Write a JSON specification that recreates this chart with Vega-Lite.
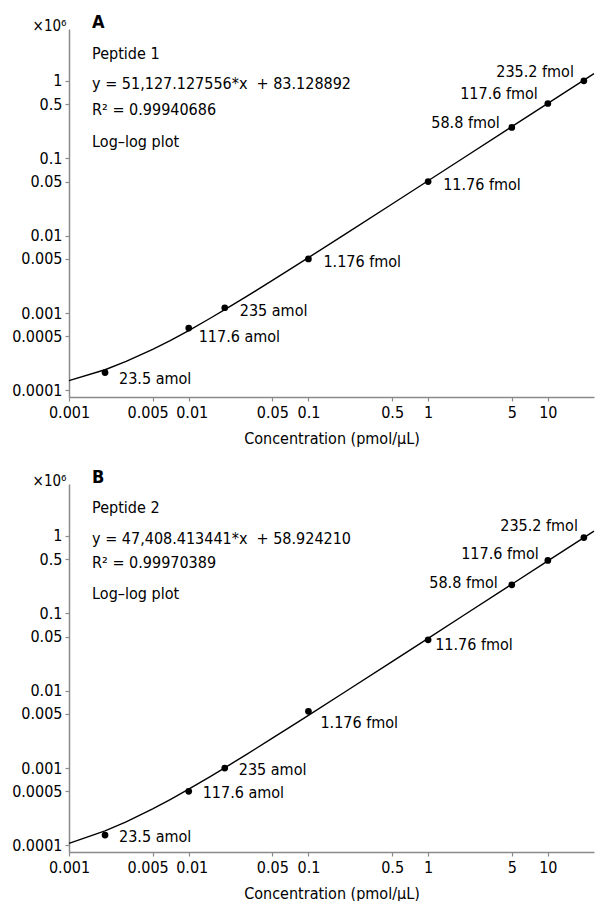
{
  "$schema": "https://vega.github.io/schema/vega-lite/v6.json",
  "padding": {"left": 11, "top": 14, "right": 0, "bottom": 0},
  "background": "white",
  "config": {
    "font": "DejaVu Sans Condensed, Liberation Sans Narrow, sans-serif",
    "view": {"stroke": null},
    "concat": {"spacing": 23},
    "axis": {
      "grid": false,
      "domainColor": "#8a8a8a",
      "domainWidth": 1.5,
      "tickColor": "#8a8a8a",
      "tickWidth": 1.2,
      "tickSize": 4,
      "labelColor": "black",
      "labelFontSize": 16,
      "labelPadding": 3,
      "labelFlush": false,
      "labelOverlap": false,
      "titleColor": "black",
      "titleFontSize": 16,
      "titleFontWeight": "normal"
    },
    "text": {"fontSize": 16, "color": "black"}
  },
  "datasets": {
    "curveA": [{"x":0.001,"y":0.000134},{"x":0.002,"y":0.000185},{"x":0.003,"y":0.000237},{"x":0.005,"y":0.000339},{"x":0.007,"y":0.000441},{"x":0.01,"y":0.000594},{"x":0.015,"y":0.00085},{"x":0.02,"y":0.001106},{"x":0.03,"y":0.001617},{"x":0.05,"y":0.002639},{"x":0.07,"y":0.003662},{"x":0.1,"y":0.005196},{"x":0.2,"y":0.010309},{"x":0.5,"y":0.025647},{"x":1,"y":0.05121},{"x":2,"y":0.10234},{"x":5,"y":0.25572},{"x":10,"y":0.51135},{"x":20,"y":1.02263},{"x":24.3,"y":1.24247}],
    "curveB": [{"x":0.001,"y":0.000106},{"x":0.002,"y":0.000154},{"x":0.003,"y":0.000201},{"x":0.005,"y":0.000296},{"x":0.007,"y":0.000391},{"x":0.01,"y":0.000533},{"x":0.015,"y":0.00077},{"x":0.02,"y":0.001007},{"x":0.03,"y":0.001481},{"x":0.05,"y":0.002429},{"x":0.07,"y":0.003378},{"x":0.1,"y":0.0048},{"x":0.2,"y":0.009541},{"x":0.5,"y":0.023763},{"x":1,"y":0.047467},{"x":2,"y":0.094876},{"x":5,"y":0.237101},{"x":10,"y":0.474143},{"x":20,"y":0.948227},{"x":24.3,"y":1.152083}],
    "ptsA": [{"x":0.002,"y":0.00017,"label":"23.5 amol"},{"x":0.01,"y":0.00064,"label":"117.6 amol"},{"x":0.02,"y":0.00117,"label":"235 amol"},{"x":0.1,"y":0.005,"label":"1.176 fmol"},{"x":1,"y":0.05,"label":"11.76 fmol"},{"x":5,"y":0.25,"label":"58.8 fmol"},{"x":10,"y":0.51,"label":"117.6 fmol"},{"x":20,"y":1.0,"label":"235.2 fmol"}],
    "ptsB": [{"x":0.002,"y":0.000136,"label":"23.5 amol"},{"x":0.01,"y":0.0005,"label":"117.6 amol"},{"x":0.02,"y":0.001,"label":"235 amol"},{"x":0.1,"y":0.0054,"label":"1.176 fmol"},{"x":1,"y":0.0453,"label":"11.76 fmol"},{"x":5,"y":0.233,"label":"58.8 fmol"},{"x":10,"y":0.481,"label":"117.6 fmol"},{"x":20,"y":0.95,"label":"235.2 fmol"}],
    "notesA": [{"x":0.00156,"y":2.22,"label":"Peptide 1"},{"x":0.00156,"y":0.915,"label":"y = 51,127.127556*x\u00a0 + 83.128892"},{"x":0.00156,"y":0.42,"label":"R² = 0.99940686"},{"x":0.00156,"y":0.163,"label":"Log–log plot"}],
    "notesB": [{"x":0.00156,"y":2.28,"label":"Peptide 2"},{"x":0.00156,"y":0.906,"label":"y = 47,408.413441*x\u00a0 + 58.924210"},{"x":0.00156,"y":0.452,"label":"R² = 0.99970389"},{"x":0.00156,"y":0.176,"label":"Log–log plot"}]
  },
  "vconcat": [
    {
      "width": 525,
      "height": 368,
      "title": {"text": "A", "anchor": "start", "frame": "group", "dx": 23, "dy": 16, "offset": 2, "fontSize": 18, "fontWeight": "bold", "color": "black"},
      "encoding": {
        "x": {"field": "x", "type": "quantitative", "scale": {"type": "log", "domain": [0.001, 24.3], "nice": false},
              "axis": {"values": [0.001,0.005,0.01,0.05,0.1,0.5,1,5,10], "format": "~g", "labelOffset": {"condition": [{"test": "datum.value == 0.005", "value": -5}, {"test": "datum.value == 0.01", "value": 3}], "value": 0}, "title": "Concentration (pmol/µL)", "titlePadding": 10}},
        "y": {"field": "y", "type": "quantitative", "scale": {"type": "log", "domain": [0.0000822, 4.68], "nice": false},
              "axis": {"values": [0.0001,0.0005,0.001,0.005,0.01,0.05,0.1,0.5,1], "format": "~g", "title": "×10⁶", "titleAngle": 0, "titleAlign": "right", "titleBaseline": "alphabetic", "titleX": -3, "titleY": 1, "titleFontSize": 15}}
      },
      "layer": [
        {"data": {"name": "curveA"}, "mark": {"type": "line", "color": "black", "strokeWidth": 1.4}},
        {"data": {"name": "ptsA"}, "mark": {"type": "circle", "size": 45, "color": "black", "opacity": 1}},
        {"data": {"name": "notesA"}, "mark": {"type": "text", "align": "left", "baseline": "middle"}, "encoding": {"text": {"field": "label"}}},
        {"data": {"name": "ptsA"}, "transform": [{"filter": {"field": "label", "oneOf": ["23.5 amol"]}}], "mark": {"type": "text", "align": "left", "baseline": "middle", "dx": 14, "dy": 6}, "encoding": {"text": {"field": "label"}}},
        {"data": {"name": "ptsA"}, "transform": [{"filter": {"field": "label", "oneOf": ["117.6 amol"]}}], "mark": {"type": "text", "align": "left", "baseline": "middle", "dx": 10, "dy": 9}, "encoding": {"text": {"field": "label"}}},
        {"data": {"name": "ptsA"}, "transform": [{"filter": {"field": "label", "oneOf": ["235 amol", "1.176 fmol", "11.76 fmol"]}}], "mark": {"type": "text", "align": "left", "baseline": "middle", "dx": 15, "dy": 3}, "encoding": {"text": {"field": "label"}}},
        {"data": {"name": "ptsA"}, "transform": [{"filter": {"field": "label", "oneOf": ["58.8 fmol"]}}], "mark": {"type": "text", "align": "right", "baseline": "middle", "dx": -12, "dy": -4}, "encoding": {"text": {"field": "label"}}},
        {"data": {"name": "ptsA"}, "transform": [{"filter": {"field": "label", "oneOf": ["117.6 fmol", "235.2 fmol"]}}], "mark": {"type": "text", "align": "right", "baseline": "middle", "dx": -10, "dy": -9}, "encoding": {"text": {"field": "label"}}}
      ]
    },
    {
      "width": 525,
      "height": 368,
      "title": {"text": "B", "anchor": "start", "frame": "group", "dx": 23, "dy": 16, "offset": 2, "fontSize": 18, "fontWeight": "bold", "color": "black"},
      "encoding": {
        "x": {"field": "x", "type": "quantitative", "scale": {"type": "log", "domain": [0.001, 24.3], "nice": false},
              "axis": {"values": [0.001,0.005,0.01,0.05,0.1,0.5,1,5,10], "format": "~g", "labelOffset": {"condition": [{"test": "datum.value == 0.005", "value": -5}, {"test": "datum.value == 0.01", "value": 3}], "value": 0}, "title": "Concentration (pmol/µL)", "titlePadding": 10}},
        "y": {"field": "y", "type": "quantitative", "scale": {"type": "log", "domain": [0.0000822, 4.68], "nice": false},
              "axis": {"values": [0.0001,0.0005,0.001,0.005,0.01,0.05,0.1,0.5,1], "format": "~g", "title": "×10⁶", "titleAngle": 0, "titleAlign": "right", "titleBaseline": "alphabetic", "titleX": -3, "titleY": 1, "titleFontSize": 15}}
      },
      "layer": [
        {"data": {"name": "curveB"}, "mark": {"type": "line", "color": "black", "strokeWidth": 1.4}},
        {"data": {"name": "ptsB"}, "mark": {"type": "circle", "size": 45, "color": "black", "opacity": 1}},
        {"data": {"name": "notesB"}, "mark": {"type": "text", "align": "left", "baseline": "middle"}, "encoding": {"text": {"field": "label"}}},
        {"data": {"name": "ptsB"}, "transform": [{"filter": {"field": "label", "oneOf": ["23.5 amol", "117.6 amol", "235 amol"]}}], "mark": {"type": "text", "align": "left", "baseline": "middle", "dx": 14, "dy": 2}, "encoding": {"text": {"field": "label"}}},
        {"data": {"name": "ptsB"}, "transform": [{"filter": {"field": "label", "oneOf": ["1.176 fmol"]}}], "mark": {"type": "text", "align": "left", "baseline": "middle", "dx": 12, "dy": 12}, "encoding": {"text": {"field": "label"}}},
        {"data": {"name": "ptsB"}, "transform": [{"filter": {"field": "label", "oneOf": ["11.76 fmol"]}}], "mark": {"type": "text", "align": "left", "baseline": "middle", "dx": 7, "dy": 5}, "encoding": {"text": {"field": "label"}}},
        {"data": {"name": "ptsB"}, "transform": [{"filter": {"field": "label", "oneOf": ["58.8 fmol"]}}], "mark": {"type": "text", "align": "right", "baseline": "middle", "dx": -14, "dy": -2}, "encoding": {"text": {"field": "label"}}},
        {"data": {"name": "ptsB"}, "transform": [{"filter": {"field": "label", "oneOf": ["117.6 fmol"]}}], "mark": {"type": "text", "align": "right", "baseline": "middle", "dx": -9, "dy": -6}, "encoding": {"text": {"field": "label"}}},
        {"data": {"name": "ptsB"}, "transform": [{"filter": {"field": "label", "oneOf": ["235.2 fmol"]}}], "mark": {"type": "text", "align": "right", "baseline": "middle", "dx": -6, "dy": -12}, "encoding": {"text": {"field": "label"}}}
      ]
    }
  ]
}
